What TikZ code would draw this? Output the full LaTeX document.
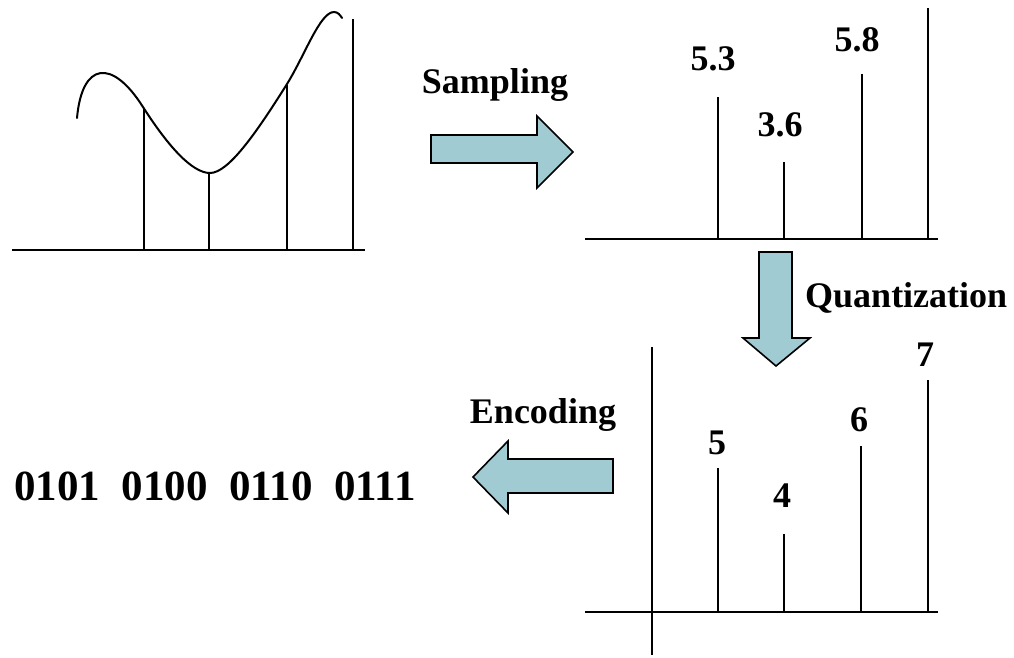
\documentclass[tikz,border=0pt]{standalone}
\usepackage{fontspec}
\setmainfont{Liberation Serif}
\definecolor{arrowfill}{RGB}{160,203,211}
\begin{document}
\begin{tikzpicture}[x=1pt,y=-1pt,
  ln/.style={line width=2pt},
  blk/.style={draw=black,line width=1.6pt,fill=arrowfill,line join=miter},
  lbl/.style={font=\fontsize{36}{40}\selectfont\bfseries,inner sep=0pt,anchor=base},
  big/.style={font=\fontsize{43}{48}\selectfont\bfseries,inner sep=0pt,anchor=base west}]
\useasboundingbox (0,0) rectangle (1014,657);
% ---- left panel: analog signal
\draw[ln] (12,250) -- (365,250);
\draw[ln] (144,108) -- (144,250);
\draw[ln] (209,173) -- (209,250);
\draw[ln] (287,85) -- (287,250);
\draw[ln] (353,19) -- (353,250);
\draw[ln,line cap=round] (77,118) .. controls (82,62) and (112,58) .. (143,107)
  .. controls (168,146) and (192,173) .. (210,173)
  .. controls (228,173) and (255,135) .. (287,84)
  .. controls (305,55) and (320,12) .. (334,12)
  .. controls (338,12) and (340,15) .. (342,18);
% ---- sampling arrow
\draw[blk] (431,135) -- (537,135) -- (537,116) -- (573,152) -- (537,188) -- (537,163) -- (431,163) -- cycle;
\node[lbl] (samp) at (495,93) {Sampling};
% ---- top right panel: samples
\draw[ln] (585,239) -- (938,239);
\draw[ln] (718,97) -- (718,239);
\draw[ln] (784,162) -- (784,239);
\draw[ln] (862,74) -- (862,239);
\draw[ln] (928,8) -- (928,239);
\node[lbl] (s1) at (713,70) {5.3};
\node[lbl] (s2) at (780,136) {3.6};
\node[lbl] (s3) at (857,51) {5.8};
% ---- quantization arrow
\draw[blk] (759,252) -- (792,252) -- (792,338) -- (810,338) -- (776,366) -- (743,338) -- (759,338) -- cycle;
\node[lbl,anchor=base west] (quant) at (805,307) {Quantization};
% ---- bottom right panel: quantized
\draw[ln] (585,612) -- (938,612);
\draw[ln] (652,347) -- (652,655);
\draw[ln] (718,468) -- (718,612);
\draw[ln] (784,534) -- (784,612);
\draw[ln] (861,446) -- (861,612);
\draw[ln] (928,380) -- (928,612);
\node[lbl] (q1) at (717,454) {5};
\node[lbl] (q2) at (782,507) {4};
\node[lbl] (q3) at (859,431) {6};
\node[lbl] (q4) at (925,366) {7};
% ---- encoding arrow
\draw[blk] (613,459) -- (508,459) -- (508,441) -- (473,477) -- (508,513) -- (508,493) -- (613,493) -- cycle;
\node[lbl] (enc) at (543,423) {Encoding};
% ---- binary code
\node[big] (code) at (14,500) {0101\hspace{0.5em}0100\hspace{0.5em}0110\hspace{0.5em}0111};
\end{tikzpicture}
\end{document}
